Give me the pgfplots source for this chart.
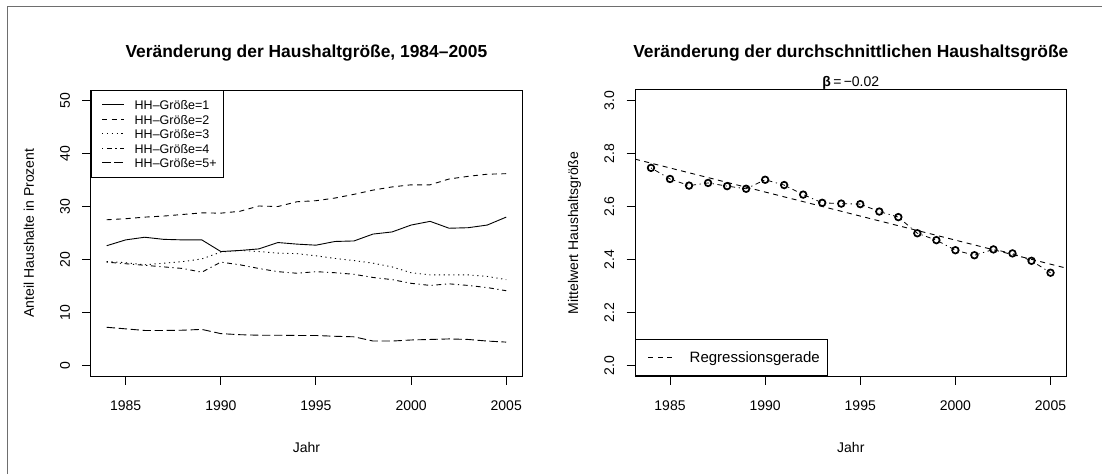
\documentclass[border=0pt]{standalone}
\usepackage{fontspec}
\setmainfont{Liberation Sans}
\usepackage{pgfplots}
\usepackage{pgfplotstable}
\pgfplotsset{compat=1.18}

\pgfplotstableread{
year s1 s2 s3 s4 s5
1984 22.6 27.5 19.6 19.5 7.2
1985 23.7 27.7 19.4 19.2 6.9
1986 24.2 28.0 19.0 18.9 6.6
1987 23.8 28.2 19.3 18.6 6.6
1988 23.7 28.5 19.6 18.3 6.65
1989 23.7 28.8 20.1 17.6 6.8
1990 21.5 28.75 21.4 19.5 6.0
1991 21.7 29.1 21.7 19.0 5.8
1992 22.0 30.1 21.5 18.3 5.7
1993 23.2 30.0 21.2 17.7 5.7
1994 22.9 30.9 21.1 17.4 5.65
1995 22.7 31.1 20.7 17.7 5.65
1996 23.4 31.6 20.2 17.5 5.5
1997 23.5 32.3 19.8 17.2 5.4
1998 24.8 33.1 19.3 16.6 4.6
1999 25.2 33.7 18.6 16.2 4.6
2000 26.5 34.1 17.5 15.5 4.8
2001 27.2 34.1 17.1 15.1 4.9
2002 25.9 35.2 17.1 15.4 5.0
2003 26.0 35.7 17.1 15.1 4.9
2004 26.5 36.1 16.8 14.7 4.6
2005 28.0 36.2 16.2 14.1 4.4
}\hhtable

\pgfplotstableread{
year mean
1984 2.746
1985 2.704
1986 2.679
1987 2.689
1988 2.677
1989 2.667
1990 2.701
1991 2.681
1992 2.645
1993 2.614
1994 2.611
1995 2.609
1996 2.581
1997 2.560
1998 2.499
1999 2.473
2000 2.435
2001 2.416
2002 2.438
2003 2.423
2004 2.395
2005 2.350
}\meantable

\pgfplotsset{
  rstyle/.style={
    scale only axis, width=431.5pt, height=286pt,
    axis line style={line width=1pt},
    every tick/.style={line width=1pt, black},
    tick align=outside, xtick pos=left, ytick pos=left,
    major tick length=8.5pt,
    xmin=1983.16, xmax=2005.84,
    xtick={1985,1990,1995,2000,2005},
    xticklabels={1985,1990,1995,2000,2005},
    /pgf/number format/assume math mode=true,
    xticklabel style={font=\fontsize{14}{16}\selectfont, anchor=base, yshift=-25.5pt},
    yticklabel style={font=\fontsize{14}{16}\selectfont, xshift=-12.4pt, rotate=90, anchor=base},
  },
  lty2/.style={dash pattern=on 5pt off 4.5pt},
  lty3/.style={dash pattern=on 1.2pt off 3.6pt},
  lty4/.style={dash pattern=on 1.2pt off 3.6pt on 4.8pt off 3.6pt},
  lty5/.style={dash pattern=on 8.4pt off 3.6pt},
}

\begin{document}
\begin{tikzpicture}
\useasboundingbox (0pt,0pt) rectangle (1102pt,474pt);
\draw[line width=1.5pt, color={rgb,255:red,110;green,110;blue,110}] (7.5pt,0pt) -- (7.5pt,467.5pt) -- (1102pt,467.5pt);

\begin{axis}[rstyle, at={(90.7pt,98pt)}, anchor=south west,
  ymin=-2, ymax=52, ytick={0,10,20,30,40,50},
  yticklabels={0,10,20,30,40,50},
  legend cell align=left,
  legend style={at={(0,1)}, anchor=north west, draw=black, line width=0.8pt,
    inner xsep=6.5pt, inner ysep=9.5pt, row sep=4.8pt,
    font=\fontsize{12.5}{14}\selectfont,
    nodes={inner sep=0pt, text height=9.7pt, text depth=0pt}},
  legend image code/.code={\draw[#1, line width=0.9pt] (4.5pt,0pt) -- (26.2pt,0pt); \path[draw=none] (0pt,0pt) -- (37.1pt,0pt);},
]
\addplot[black, line width=0.9pt] table[x=year, y=s1] {\hhtable};
\addlegendentry{HH–Größe=1}
\addplot[black, line width=0.9pt, lty2] table[x=year, y=s2] {\hhtable};
\addlegendentry{HH–Größe=2}
\addplot[black, line width=0.9pt, lty3] table[x=year, y=s3] {\hhtable};
\addlegendentry{HH–Größe=3}
\addplot[black, line width=0.9pt, lty4] table[x=year, y=s4] {\hhtable};
\addlegendentry{HH–Größe=4}
\addplot[black, line width=0.9pt, lty5] table[x=year, y=s5] {\hhtable};
\addlegendentry{HH–Größe=5+}
\end{axis}

\begin{axis}[rstyle, at={(635pt,98pt)}, anchor=south west,
  ymin=1.96, ymax=3.04, ytick={2.0,2.2,2.4,2.6,2.8,3.0},
  yticklabels={2.0,2.2,2.4,2.6,2.8,3.0},
  legend cell align=left,
  legend style={at={(0,0)}, anchor=south west, draw=black, line width=0.8pt,
    inner xsep=7.3pt, inner ysep=13.15pt,
    font=\fontsize{15}{17}\selectfont,
    nodes={inner sep=0pt, text height=9.7pt, text depth=0pt}},
  legend image code/.code={\draw[#1, line width=0.9pt] (5.7pt,0pt) -- (30.4pt,0pt); \path[draw=none] (0pt,0pt) -- (47pt,0pt);},
]
\addplot[black, line width=0.9pt, lty2] coordinates {(1983.16,2.779) (2005.84,2.367)};
\addlegendentry{Regressionsgerade}
\addplot[black, line width=0.8pt, lty4, forget plot] table[x=year, y=mean] {\meantable};
\addplot[only marks, mark=o, mark size=3.3pt, mark options={line width=1.7pt, fill=white, solid}, black, forget plot] table[x=year, y=mean] {\meantable};
\end{axis}

\node[font=\fontsize{17.4}{20}\selectfont\bfseries] at (306.4pt,421pt) {Veränderung der Haushaltgröße, 1984–2005};
\node[font=\fontsize{17.4}{20}\selectfont\bfseries] at (850.8pt,421pt) {Veränderung der durchschnittlichen Haushaltsgröße};
\node[font=\fontsize{14}{16}\selectfont] at (850.8pt,391pt) {\textbf{β}\,=\,−0.02};
\node[font=\fontsize{14}{16}\selectfont, anchor=base] at (306.4pt,22pt) {Jahr};
\node[font=\fontsize{14}{16}\selectfont, anchor=base] at (850.8pt,22pt) {Jahr};
\node[font=\fontsize{14}{16}\selectfont, anchor=base, rotate=90] at (33.8pt,241pt) {Anteil Haushalte in Prozent};
\node[font=\fontsize{14}{16}\selectfont, anchor=base, rotate=90] at (578.1pt,241pt) {Mittelwert Haushaltsgröße};
\end{tikzpicture}
\end{document}
